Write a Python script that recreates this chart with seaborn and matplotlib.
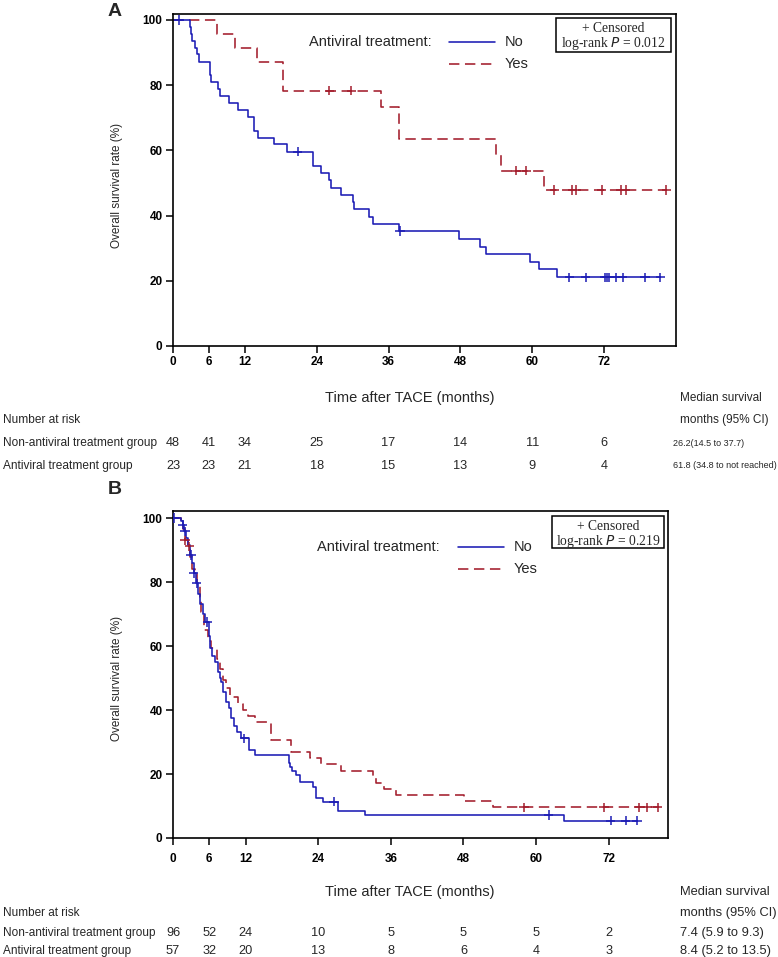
import numpy as np
import pandas as pd
import matplotlib
matplotlib.use("Agg")
import matplotlib.pyplot as plt
import matplotlib.transforms as mtransforms
import seaborn as sns

sns.set_style("ticks")
plt.rcParams['font.family'] = ['Liberation Sans', 'DejaVu Sans']

W, H = 778, 957

# ---------------- Panel A: step times (months) and survival (%)
a_no_t = [2.8, 3.0, 3.2, 3.6, 4.0, 4.3, 6.1, 6.4, 7.5, 7.9, 9.3, 10.8, 12.5, 13.5, 14.2,
          16.8, 19.0, 23.3, 24.7, 26.1, 26.4, 28.1, 30.1, 30.3, 32.8, 33.4, 37.7, 47.8,
          51.3, 52.2, 59.6, 61.2, 64.1]
a_no_s = [97.9, 95.7, 93.6, 91.5, 89.4, 87.2, 83.0, 80.9, 78.7, 76.6, 74.5, 72.4, 70.3, 66.0,
          63.9, 61.8, 59.6, 55.2, 53.0, 50.8, 48.6, 46.3, 44.1, 41.9, 39.7, 37.5, 35.3, 32.9,
          30.5, 28.2, 25.8, 23.5, 21.1]
a_no_cens = [1.0, 20.8, 37.9, 66.2, 68.9, 72.1, 72.4, 72.8, 73.9, 75.1, 78.8, 81.4]

a_yes_t = [7.3, 10.3, 14.0, 18.3, 34.8, 37.8, 54.0, 54.7, 62.0]
a_yes_s = [95.7, 91.3, 87.0, 78.3, 73.4, 63.6, 58.7, 53.8, 47.8]
a_yes_cens = [26.1, 29.8, 57.3, 59.0, 63.7, 66.7, 67.3, 71.6, 74.8, 75.6, 82.4]

# ---------------- Panel B
b_no_t = [1.3, 1.6, 1.9, 2.2, 2.5, 2.8, 3.1, 3.4, 3.8, 4.1, 4.5, 4.9, 5.3, 5.9, 6.1, 6.5,
          6.9, 7.4, 7.7, 8.0, 8.3, 8.8, 9.2, 9.6, 10.1, 10.6, 11.2, 12.6, 13.6, 19.1, 19.4,
          19.7, 20.4, 21.0, 23.1, 23.6, 24.8, 27.3, 31.8, 64.6]
b_no_s = [99.0, 97.9, 95.8, 93.7, 91.6, 88.4, 85.8, 82.7, 79.6, 76.4, 73.2, 70.0, 67.5, 63.0,
          59.3, 56.9, 55.1, 52.0, 50.0, 48.9, 45.7, 42.6, 40.5, 37.5, 35.0, 33.0, 31.2, 27.5,
          25.9, 23.4, 22.3, 20.9, 19.7, 17.4, 16.0, 12.4, 11.4, 8.5, 7.2, 5.4]
b_no_cens = [0.2, 1.6, 2.0, 3.0, 3.4, 3.9, 5.7, 11.8, 26.6, 62.1, 72.3, 74.8, 76.7]

b_yes_t = [1.3, 1.7, 2.0, 2.4, 2.8, 3.2, 3.6, 4.0, 4.4, 4.7, 5.2, 5.8, 6.3, 7.3, 7.8, 8.3,
           8.8, 9.4, 10.7, 11.5, 12.4, 13.6, 16.2, 19.5, 22.7, 24.5, 27.8, 33.1, 33.5, 34.9,
           36.8, 48.1, 52.8]
b_yes_s = [98.2, 96.5, 93.0, 91.2, 87.7, 84.2, 82.4, 78.9, 75.4, 70.7, 65.0, 61.5, 59.3, 56.0,
           52.7, 49.4, 46.9, 44.2, 42.0, 40.0, 38.1, 36.4, 30.6, 27.0, 24.9, 23.0, 21.0, 19.2,
           17.3, 15.3, 13.5, 11.6, 9.6]
b_yes_cens = [2.0, 2.7, 58.0, 71.2, 77.0, 78.4, 80.1]

# ---------------- number at risk table
tick_months = [0, 6, 12, 24, 36, 48, 60, 72]
a_risk_no = [48, 41, 34, 25, 17, 14, 11, 6]
a_risk_yes = [23, 23, 21, 18, 15, 13, 9, 4]
a_median = ["26.2(14.5 to 37.7)", "61.8 (34.8 to not reached)"]
b_risk_no = [96, 52, 24, 10, 5, 5, 5, 2]
b_risk_yes = [57, 32, 20, 13, 8, 6, 4, 3]
b_median = ["7.4 (5.9 to 9.3)", "8.4 (5.2 to 13.5)"]
row_names = ["Non-antiviral treatment group", "Antiviral treatment group"]
p_values = ["0.012", "0.219"]

BLUE = "#1c1cb4"
RED = "#a31d2c"
palette = {"No": BLUE, "Yes": RED}


def step_frame(times, surv, cens, group):
    t = [0.0] + list(times) + [max(cens)]
    s = [100.0] + list(surv)
    s = s + [s[-1]]
    return pd.DataFrame({"t": t, "s": s, "group": group})


def cens_frame(times, surv, cens, group):
    t = np.r_[0.0, times]
    s = np.r_[100.0, surv]
    idx = np.searchsorted(t, cens, side="right") - 1
    return pd.DataFrame({"t": cens, "s": s[idx], "group": group})


def fx(px):
    return px / W


def fy(py):
    return 1 - py / H


fig = plt.figure(figsize=(W / 100, H / 100), dpi=100)


def draw_panel(rect, xmax, ymax, no, yes, letter, p, risk, medians, geo):
    ax = fig.add_axes(rect)
    curves = pd.concat([step_frame(*yes, "Yes"), step_frame(*no, "No")], ignore_index=True)
    cens = pd.concat([cens_frame(*yes, "Yes"), cens_frame(*no, "No")], ignore_index=True)
    sns.lineplot(data=curves, x="t", y="s", hue="group", style="group", palette=palette,
                 dashes={"No": "", "Yes": (6.5, 3.5)}, drawstyle="steps-post",
                 estimator=None, sort=False, linewidth=1.15, legend=False, ax=ax)
    sns.scatterplot(data=cens, x="t", y="s", hue="group", palette=palette, marker="+",
                    s=45, linewidth=1.1, legend=False, ax=ax, zorder=4)
    ax.set_xlim(0, xmax)
    ax.set_ylim(0, ymax)
    ax.set_xticks(tick_months)
    ax.set_yticks([0, 20, 40, 60, 80, 100])
    ax.set_xlabel("")
    ax.set_ylabel("")
    for sp in ax.spines.values():
        sp.set_linewidth(1.2)
        sp.set_color("black")
    ax.tick_params(direction="out", length=5, width=1.1, labelsize=8.5, pad=2.5,
                   colors="black")
    ax.tick_params(axis="x", pad=geo["xpad"])
    for lab in ax.get_xticklabels() + ax.get_yticklabels():
        lab.set_fontweight("bold")

    top = geo["top"]
    # legend drawn by hand, like the SAS layout
    fig.text(fx(geo["lt"]), fy(top + 28), "Antiviral treatment:", fontsize=10.5,
             va="center")
    lx = [fx(geo["lx0"]), fx(geo["lx0"] + 46)]
    fig.add_artist(plt.Line2D(lx, [fy(top + 28)] * 2, color=BLUE, lw=1.15))
    fig.add_artist(plt.Line2D(lx, [fy(top + 50)] * 2, color=RED, lw=1.15,
                              dashes=(6.5, 3.5)))
    fig.text(fx(geo["lx0"] + 56), fy(top + 28), "No", fontsize=10.5, va="center")
    fig.text(fx(geo["lx0"] + 56), fy(top + 50), "Yes", fontsize=10.5, va="center")

    bx0, bx1, by0, by1 = geo["box"]
    box = plt.Rectangle((fx(bx0), fy(by1)), fx(bx1) - fx(bx0), fy(by0) - fy(by1),
                        transform=fig.transFigure, fill=False, lw=1.1, ec="black")
    fig.add_artist(box)
    cx = fx((bx0 + bx1) / 2)
    fig.text(cx, fy(by0 + 10), "+ Censored", family="Liberation Serif", fontsize=9.8,
             ha="center", va="center")
    fig.text(cx, fy(by0 + 25), "log-rank $P$ = " + p, family="Liberation Serif",
             fontsize=9.8, ha="center", va="center")

    fig.text(fx(108), fy(geo["letter_y"]), letter, fontsize=14, fontweight="bold",
             va="center")
    fig.text(fx(117), fy(geo["ylab_y"]), "Overall survival rate (%)", rotation=90,
             fontsize=8.5, ha="center", va="center")

    r = geo["rows"]
    fs_head, fs_row, fs_med = geo["fs"]
    fig.text(fx(410), fy(r[0]), "Time after TACE (months)", fontsize=10.5, ha="center",
             va="center")
    fig.text(fx(680), fy(r[0]), "Median survival", fontsize=fs_head, va="center")
    fig.text(fx(3), fy(r[1]), "Number at risk", fontsize=fs_row, va="center")
    fig.text(fx(680), fy(r[1]), "months (95% CI)", fontsize=fs_head, va="center")
    trans = mtransforms.blended_transform_factory(ax.transData, fig.transFigure)
    for k, (name, vals, med) in enumerate(zip(row_names, risk, medians)):
        yy = fy(r[2 + k])
        fig.text(fx(3), yy, name, fontsize=fs_row, va="center")
        for m, v in zip(tick_months, vals):
            fig.text(m, yy, str(v), transform=trans, fontsize=9.2, ha="center",
                     va="center")
        fig.text(fx(geo["medx"]), yy, med, fontsize=fs_med, va="center")
    return ax


# panel A frame: x 173..676, y 14..346 px
draw_panel([fx(173), fy(346), fx(676) - fx(173), fy(14) - fy(346)], 84, 101.8,
           (a_no_t, a_no_s, a_no_cens), (a_yes_t, a_yes_s, a_yes_cens), "A",
           p_values[0], [a_risk_no, a_risk_yes], a_median,
           {"top": 14, "lt": 309, "lx0": 449, "box": (556, 671, 18, 52), "letter_y": 11,
            "ylab_y": 185, "rows": [398, 420, 443, 466], "xpad": 2.5,
            "fs": (8.5, 8.6, 6.5), "medx": 673})

# panel B frame: x 173..668, y 511..838 px
draw_panel([fx(173), fy(838), fx(668) - fx(173), fy(511) - fy(838)], 81.8, 102.2,
           (b_no_t, b_no_s, b_no_cens), (b_yes_t, b_yes_s, b_yes_cens), "B",
           p_values[1], [b_risk_no, b_risk_yes], b_median,
           {"top": 519, "lt": 317, "lx0": 458, "box": (552, 664, 516, 548), "letter_y": 490,
            "ylab_y": 678, "rows": [892, 913, 933, 951], "xpad": 6,
            "fs": (9.3, 8.5, 9.3), "medx": 680})

fig.savefig("out.png", dpi=100, facecolor="white")
